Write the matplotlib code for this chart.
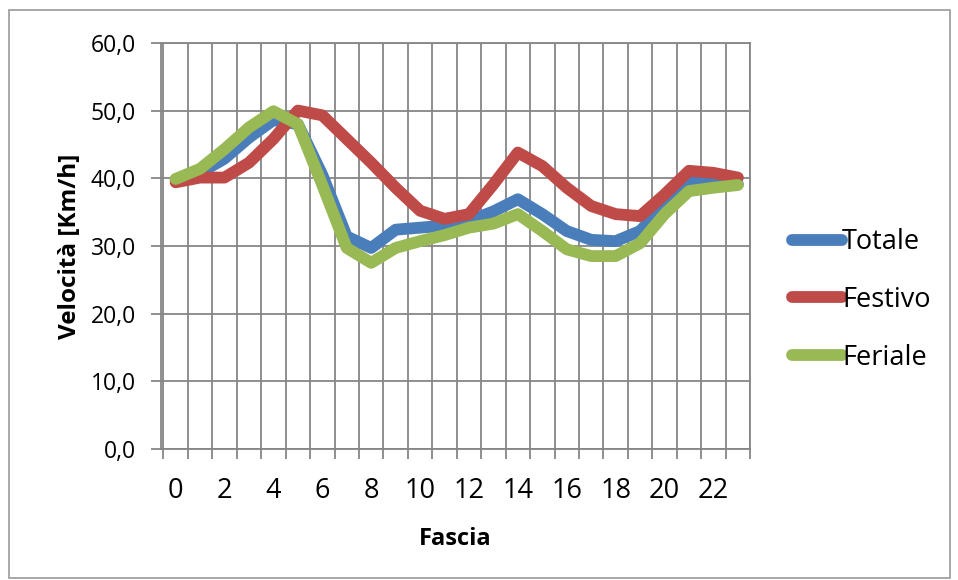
import matplotlib.pyplot as plt
import numpy as np
from matplotlib.patches import Rectangle

# fasce orarie 0..23
fascia = list(range(24))
totale = [39.8, 40.8, 42.9, 46.0, 48.6, 48.0, 40.5, 31.4, 29.7, 32.4, 32.7, 33.0,
          33.7, 35.1, 36.9, 34.7, 32.2, 30.9, 30.7, 32.2, 36.0, 39.6, 39.4, 39.1]
festivo = [39.4, 40.1, 40.1, 42.3, 45.8, 50.0, 49.3, 45.8, 42.3, 38.6, 35.2, 34.0,
           34.7, 39.1, 43.8, 41.8, 38.6, 35.9, 34.7, 34.4, 37.6, 41.1, 40.8, 40.1]
feriale = [39.9, 41.4, 44.3, 47.5, 49.9, 48.0, 39.0, 29.7, 27.5, 29.7, 30.7, 31.6,
           32.7, 33.3, 34.7, 32.2, 29.5, 28.5, 28.5, 30.4, 34.7, 38.1, 38.6, 39.0]
yticks = [0, 10, 20, 30, 40, 50, 60]

plt.rcParams['font.family'] = ['Open Sans', 'DejaVu Sans']

fig = plt.figure(figsize=(9.58, 5.8), dpi=100)
# bordo del grafico
fig.patches.append(Rectangle((0.009, 0.003), 0.983, 0.980, transform=fig.transFigure,
                             fill=False, edgecolor='#9a9a9a', linewidth=1.2))
ax = fig.add_axes([0.168, 0.226, 0.615, 0.700])

grid_c = '#868686'
lw = 8.5
ax.plot(fascia, totale, color='#4A7EBB', lw=lw, solid_joinstyle='round',
        solid_capstyle='round', label='Totale', zorder=3)
ax.plot(fascia, festivo, color='#BE4B48', lw=lw, solid_joinstyle='round',
        solid_capstyle='round', label='Festivo', zorder=4)
ax.plot(fascia, feriale, color='#98B954', lw=lw, solid_joinstyle='round',
        solid_capstyle='round', label='Feriale', zorder=5)

ax.set_xlim(-0.6, 23.5)
ax.set_ylim(0, 60)
ax.set_yticks(yticks)
ax.set_yticklabels([f"{v:.1f}".replace('.', ',') for v in yticks], fontsize=16.5)
ax.set_xticks(np.arange(-0.5, 24, 1), minor=True)
ax.set_xticks(fascia[::2])
ax.set_xticklabels([str(v) for v in fascia[::2]], fontsize=19.5)
ax.tick_params(axis='x', which='major', length=0, pad=20)
ax.tick_params(axis='x', which='minor', length=7, color=grid_c, width=1.3)
ax.tick_params(axis='y', length=7, color=grid_c, width=1.3, pad=11)

ax.grid(True, which='major', axis='y', color=grid_c, lw=1.3)
ax.grid(True, which='minor', axis='x', color=grid_c, lw=1.3)
ax.set_axisbelow(True)
for s in ax.spines.values():
    s.set_color(grid_c)
    s.set_linewidth(1.3)

ax.set_ylabel('Velocità [Km/h]', fontsize=17.5, fontweight='bold', labelpad=6)
ax.set_xlabel('Fascia', fontsize=17, fontweight='bold', labelpad=16)

leg = ax.legend(loc='center left', bbox_to_anchor=(1.071, 0.367), frameon=False,
                fontsize=19.5, handlelength=1.85, handletextpad=0.0, labelspacing=1.1,
                borderpad=0, borderaxespad=0)

fig.savefig('out.png', dpi=100)
